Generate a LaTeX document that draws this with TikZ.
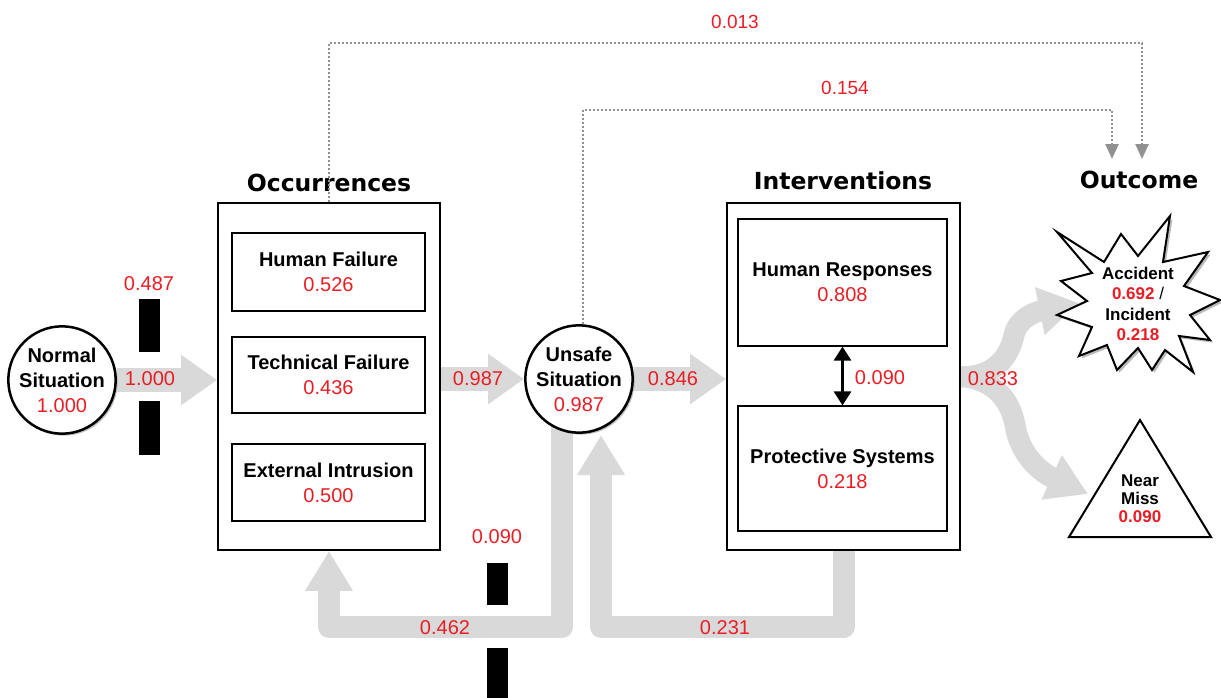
\documentclass[tikz,border=0pt]{standalone}
\usepackage{fontspec}
\setmainfont{Liberation Sans}
\newfontfamily\titlefont{DejaVu Sans}
\usetikzlibrary{arrows.meta,shadows,calc}
\pgfdeclarelayer{background}
\pgfsetlayers{background,main}
\definecolor{numred}{RGB}{232,30,36}
\definecolor{flowgray}{RGB}{217,217,217}
\definecolor{dotgray}{RGB}{145,145,145}
\newcommand{\redval}[1]{\textcolor{numred}{#1}}

\begin{document}
\begin{tikzpicture}[x=1pt,y=-1pt,
  every node/.style={font=\fontsize{20}{25}\selectfont},
  num/.style={text=numred, inner sep=1pt},
  ttl/.style={font=\titlefont\bfseries\fontsize{23.5}{28}\selectfont},
  outerbox/.style={draw, line width=1.8pt, fill=white, inner sep=0pt},
  innerbox/.style={draw, line width=1.2pt, fill=white, inner sep=0pt, align=center},
  circ/.style={circle, draw, line width=2.5pt, fill=white, inner sep=0pt, align=center,
    drop shadow={shadow xshift=2pt, shadow yshift=-2pt, fill=black!50}},
  bar/.style={fill=black, inner sep=0pt, minimum width=21pt},
  flowarrow/.style={draw=flowgray, line width=24pt, -{Triangle[length=36pt,width=48pt]}},
  flowcurve/.style={draw=flowgray, line width=21pt, -{Triangle[length=40pt,width=46pt]}},
  flowloop/.style={draw=flowgray, line width=22pt, line join=round, -{Triangle[length=40pt,width=45pt]}},
  dotline/.style={draw=dotgray, line width=2.5pt, dash pattern=on 2pt off 2pt,
    -{Triangle[length=15pt,width=13pt,fill=dotgray]}},
  dbl/.style={line width=3pt, {Triangle[length=14pt,width=17pt]}-{Triangle[length=14pt,width=17pt]}},
  outline/.style={draw, line width=2pt, fill=white, line join=miter}
]
\useasboundingbox (0,0) rectangle (1221,697);

% ---- main stages ----
\node[circ, minimum size=102pt] (normal) at (62,380)
  {\textbf{Normal}\\\textbf{Situation}\\\redval{1.000}};

\node[outerbox, minimum width=222pt, minimum height=347pt] (occ) at (329,376.5) {};
\node[ttl] (occt) at (329,183) {Occurrences};
\node[innerbox, minimum width=193pt, minimum height=78pt] (hf) at (328.5,272)
  {\textbf{Human Failure}\\\redval{0.526}};
\node[innerbox, minimum width=193pt, minimum height=76pt] (tf) at (328.5,375)
  {\textbf{Technical Failure}\\\redval{0.436}};
\node[innerbox, minimum width=193pt, minimum height=77pt] (ei) at (328.5,482.5)
  {\textbf{External Intrusion}\\\redval{0.500}};

\node[circ, minimum size=105pt] (unsafe) at (579,379)
  {\textbf{Unsafe}\\\textbf{Situation}\\\redval{0.987}};

\node[outerbox, minimum width=233pt, minimum height=347pt] (intv) at (843.5,376.5) {};
\node[ttl] (intvt) at (843,181) {Interventions};
\node[innerbox, minimum width=209pt, minimum height=127pt] (hr) at (842.5,282.5)
  {\textbf{Human Responses}\\\redval{0.808}};
\node[innerbox, minimum width=209pt, minimum height=125pt] (ps) at (842.5,468.5)
  {\textbf{Protective Systems}\\\redval{0.218}};

\node[ttl] (outt) at (1139,180) {Outcome};

% ---- outcome shapes ----
\draw[outline, drop shadow={shadow xshift=2.5pt, shadow yshift=-2.5pt, fill=black!55}]
  (1057,232) -- (1104,262) -- (1121,234) -- (1138,256) -- (1170,216) -- (1163,262)
  -- (1208,252) -- (1184,286) -- (1220,300) -- (1190,315) -- (1210,340) -- (1179,336)
  -- (1193,372) -- (1165,350) -- (1152,370) -- (1138,348) -- (1117,370) -- (1107,345)
  -- (1079,356) -- (1092,327) -- (1057,315) -- (1087,301) -- (1061,281) -- (1092,273)
  -- cycle;
\node[align=center, font=\fontsize{17}{20.5}\selectfont] (acc) at (1138,304)
  {\textbf{Accident}\\\textbf{\redval{0.692}} /\\\textbf{Incident}\\\textbf{\redval{0.218}}};

\draw[outline] (1140,420) -- (1211,537) -- (1069,537) -- cycle;
\node[align=center, font=\fontsize{17}{18}\selectfont] (near) at (1140,499)
  {\textbf{Near}\\\textbf{Miss}\\\textbf{\redval{0.090}}};

% ---- barriers ----
\node[bar, minimum height=53pt] (bar1) at (149.5,325.5) {};
\node[bar, minimum height=54pt] (bar2) at (149.5,428) {};
\node[num] (v487) at (149,284) {0.487};
\node[bar, minimum height=42pt] (bar3) at (497,584) {};
\node[bar, minimum height=50pt] (bar4) at (497,673) {};
\node[num] (v090b) at (497,537) {0.090};

% ---- flows ----
\coordinate (accin) at (1079,303);
\coordinate (nearin) at (1088,494);
\coordinate (lstart) at (562,400);
\coordinate (lb1) at (562,627);
\coordinate (lb2) at (329,627);
\coordinate (rb1) at (843.5,627);
\coordinate (rb2) at (601,627);
\coordinate (rtip) at (601,435);
\begin{pgfonlayer}{background}
\draw[flowarrow] (normal.east) -- (normal.east -| occ.west);
\draw[flowarrow] (unsafe.west -| occ.east) -- (unsafe.west);
\draw[flowarrow] (unsafe.east) -- (unsafe.east -| intv.west);
\draw[flowcurve] (intv.east) .. controls (995,378) and (1010,355) .. (1014,335)
  .. controls (1018,318) and (1035,312) .. (accin);
\draw[flowcurve] (intv.east) .. controls (995,379) and (1011,402) .. (1015,425)
  .. controls (1020,455) and (1040,472) .. (nearin);
\draw[flowloop] (lstart) -- (lb1) -- (lb2) -- (occ.south);
\draw[flowloop] (intv.south) -- (rb1) -- (rb2) -- (rtip);
\end{pgfonlayer}

\draw[dbl] (hr.south) -- (ps.north);

\node[num] (v1000) at (150,379) {1.000};
\node[num] (v987) at (478,379) {0.987};
\node[num] (v846) at (673,379) {0.846};
\node[num] (v090) at (880,378) {0.090};
\node[num] (v833) at (993,379) {0.833};
\node[num] (v462) at (445,628) {0.462};
\node[num] (v231) at (725,628) {0.231};

% ---- direct links to the outcome ----
\coordinate (top1) at (1142,43);
\coordinate (tip1) at (1142,159);
\coordinate (top2) at (1112,110);
\coordinate (tip2) at (1112,159);
\draw[dotline] (occ.north) |- (top1) -- (tip1);
\draw[dotline] ($(unsafe.north)+(4,0)$) |- (top2) -- (tip2);
\node[num, font=\fontsize{19}{22}\selectfont] (v013) at (735,22) {0.013};
\node[num, font=\fontsize{19}{22}\selectfont] (v154) at (845,88) {0.154};
\end{tikzpicture}
\end{document}
